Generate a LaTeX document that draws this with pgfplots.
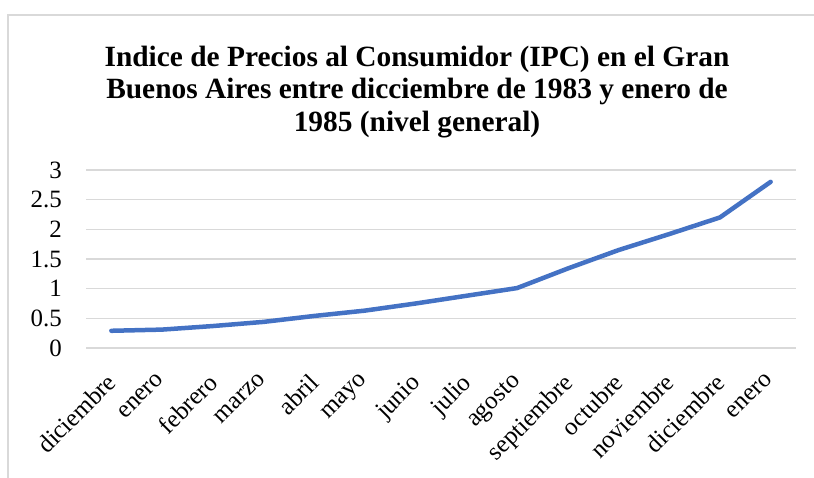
\documentclass[border=0pt]{standalone}
\usepackage{pgfplots}
\pgfplotsset{compat=1.18}
\usepackage{fontspec}
\setmainfont{Liberation Serif}
\definecolor{linecol}{HTML}{4472C4}
\definecolor{gridcol}{HTML}{D9D9D9}
\begin{document}
\begin{tikzpicture}
\useasboundingbox (0,0) rectangle (814bp,478bp);
\begin{scope}
\clip (0,0) rectangle (814bp,478bp);
\draw[gridcol, line width=1.5bp] (8bp,-20bp) -- (8bp,463bp) -- (840bp,463bp);
\end{scope}
\node[anchor=base, font=\bfseries\fontsize{29.5}{33}\selectfont] at (417bp,411.5bp) {Indice de Precios al Consumidor (IPC) en el Gran};
\node[anchor=base, font=\bfseries\fontsize{29.5}{33}\selectfont] at (417bp,379bp) {Buenos Aires entre dicciembre de 1983 y enero de};
\node[anchor=base, font=\bfseries\fontsize{29.5}{33}\selectfont] at (417bp,346.5bp) {1985 (nivel general)};
\begin{axis}[
  at={(86bp,130bp)}, anchor=south west,
  scale only axis, width=710bp, height=178bp,
  xmin=-0.5, xmax=13.5, ymin=0, ymax=3,
  xtick={0,...,13},
  xticklabels={diciembre,enero,febrero,marzo,abril,mayo,junio,julio,agosto,septiembre,octubre,noviembre,diciembre,enero},
  ytick={0,0.5,1,1.5,2,2.5,3},
  yticklabels={0,0.5,1,1.5,2,2.5,3},
  axis line style={draw=none},
  major tick length=0pt,
  ymajorgrids, grid style={gridcol, line width=1.5bp},
  tick label style={font=\fontsize{25}{28}\selectfont},
  yticklabel style={anchor=east, inner sep=0pt, xshift=-24bp},
  xticklabel style={rotate=45, anchor=north east, inner sep=0pt, yshift=-12.6bp, xshift=-21bp},
  clip=false,
]
\addplot[linecol, line width=4.5bp, line cap=round, line join=round] coordinates {
(0,0.29) (1,0.31) (2,0.37) (3,0.44) (4,0.54) (5,0.63) (6,0.75) (7,0.88) (8,1.01) (9,1.34) (10,1.65) (11,1.92) (12,2.20) (13,2.80)
};
\end{axis}
\end{tikzpicture}
\end{document}
